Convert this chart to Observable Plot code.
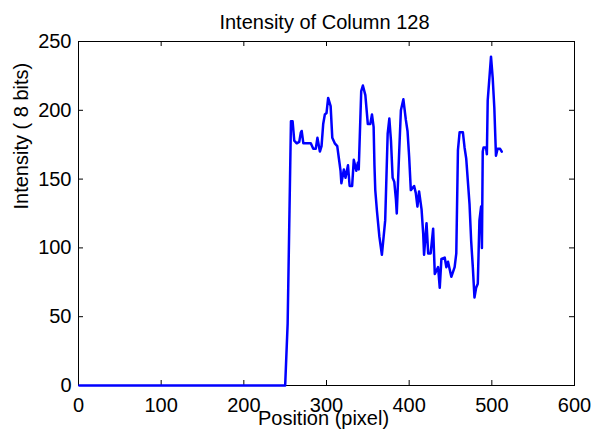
<!DOCTYPE html>
<html>
<head>
<meta charset="utf-8">
<script src="https://cdn.jsdelivr.net/npm/d3@7"></script>
<script src="https://cdn.jsdelivr.net/npm/@observablehq/plot@0.6"></script>
<style>
  html, body { margin: 0; padding: 0; background: white; }
</style>
</head>
<body>
<div id="chart"></div>
<script>
const titleText = "Intensity of Column 128";
const xLabel = "Position (pixel)";
const yLabel = "Intensity ( 8 bits)";
const xTicks = [0, 100, 200, 300, 400, 500, 600];
const yTicks = [0, 50, 100, 150, 200, 250];

const positions = [
  1, 249, 250, 253, 257, 259, 261, 264, 267, 269, 270, 272, 276, 281, 284, 287, 289, 292, 294, 296,
  298, 300, 302, 305, 307, 310, 313, 315, 317, 318, 321, 323, 326, 328, 331, 333, 336, 338, 339, 342,
  344, 347, 350, 353, 355, 357, 358, 359, 361, 364, 367, 371, 374, 376, 378, 380, 382, 384, 385, 388,
  390, 393, 396, 398, 400, 402, 406, 408, 410, 412, 415, 417, 418, 421, 423, 426, 429, 431, 435, 437,
  439, 443, 445, 447, 451, 455, 457, 459, 461, 465, 467, 469, 473, 475, 477, 479, 481, 483, 485, 487,
  488, 489, 490, 493, 494, 495, 499, 501, 503, 505, 507, 510, 512
];
const intensity = [
  0, 0, 0, 45, 192, 192, 178, 176, 177, 184, 185, 176, 176, 176, 172, 172, 180, 170, 174, 190,
  197, 198, 209, 203, 180, 176, 174, 165, 156, 147, 157, 151, 160, 145, 145, 164, 156, 162, 157, 214,
  218, 211, 190, 190, 197, 188, 160, 142, 127, 108, 95, 120, 183, 194, 178, 151, 148, 135, 125, 171,
  200, 208, 193, 185, 166, 142, 145, 140, 130, 141, 128, 110, 95, 118, 96, 96, 114, 81, 86, 71,
  92, 93, 86, 90, 79, 86, 96, 171, 184, 184, 173, 165, 132, 105, 86, 64, 71, 74, 120, 130,
  100, 170, 173, 173, 168, 207, 239, 224, 202, 167, 172, 172, 170
];

const data = positions.map((x, i) => ({x, y: intensity[i]}));

const W = 592, H = 432, mL = 78, mR = 18, mT = 41, mB = 47;
const fw = W - mL - mR, fh = H - mT - mB, tick = 5;

const chart = Plot.plot({
  width: W, height: H,
  marginLeft: mL, marginRight: mR, marginTop: mT, marginBottom: mB,
  x: {domain: [0, 600]},
  y: {domain: [0, 250]},
  style: {fontFamily: "'Liberation Sans', Arial, sans-serif", fontSize: "20px", color: "black", background: "white"},
  marks: [
    Plot.axisX(xTicks, {tickSize: 0, tickPadding: 12, label: null}),
    Plot.axisY(yTicks, {tickSize: 0, tickPadding: 7, label: null}),
    Plot.tickX(xTicks, {x: d => d, insetTop: fh - tick, stroke: "black"}),
    Plot.tickX(xTicks, {x: d => d, insetBottom: fh - tick, stroke: "black"}),
    Plot.tickY(yTicks, {y: d => d, insetRight: fw - tick, stroke: "black"}),
    Plot.tickY(yTicks, {y: d => d, insetLeft: fw - tick, stroke: "black"}),
    Plot.frame({stroke: "black", strokeWidth: 1}),
    Plot.line(data, {x: "x", y: "y", stroke: "#0000ff", strokeWidth: 2.5}),
    Plot.text([titleText], {text: d => d, frameAnchor: "top", lineAnchor: "bottom", dy: -13, dx: -2, fontSize: 20}),
    Plot.text([xLabel], {text: d => d, frameAnchor: "bottom", lineAnchor: "bottom", dy: 39, dx: -3, fontSize: 20}),
    Plot.text([yLabel], {text: d => d, frameAnchor: "left", lineAnchor: "bottom", rotate: -90, dx: -51, dy: -4, fontSize: 20})
  ]
});
document.getElementById("chart").appendChild(chart);
</script>
</body>
</html>
